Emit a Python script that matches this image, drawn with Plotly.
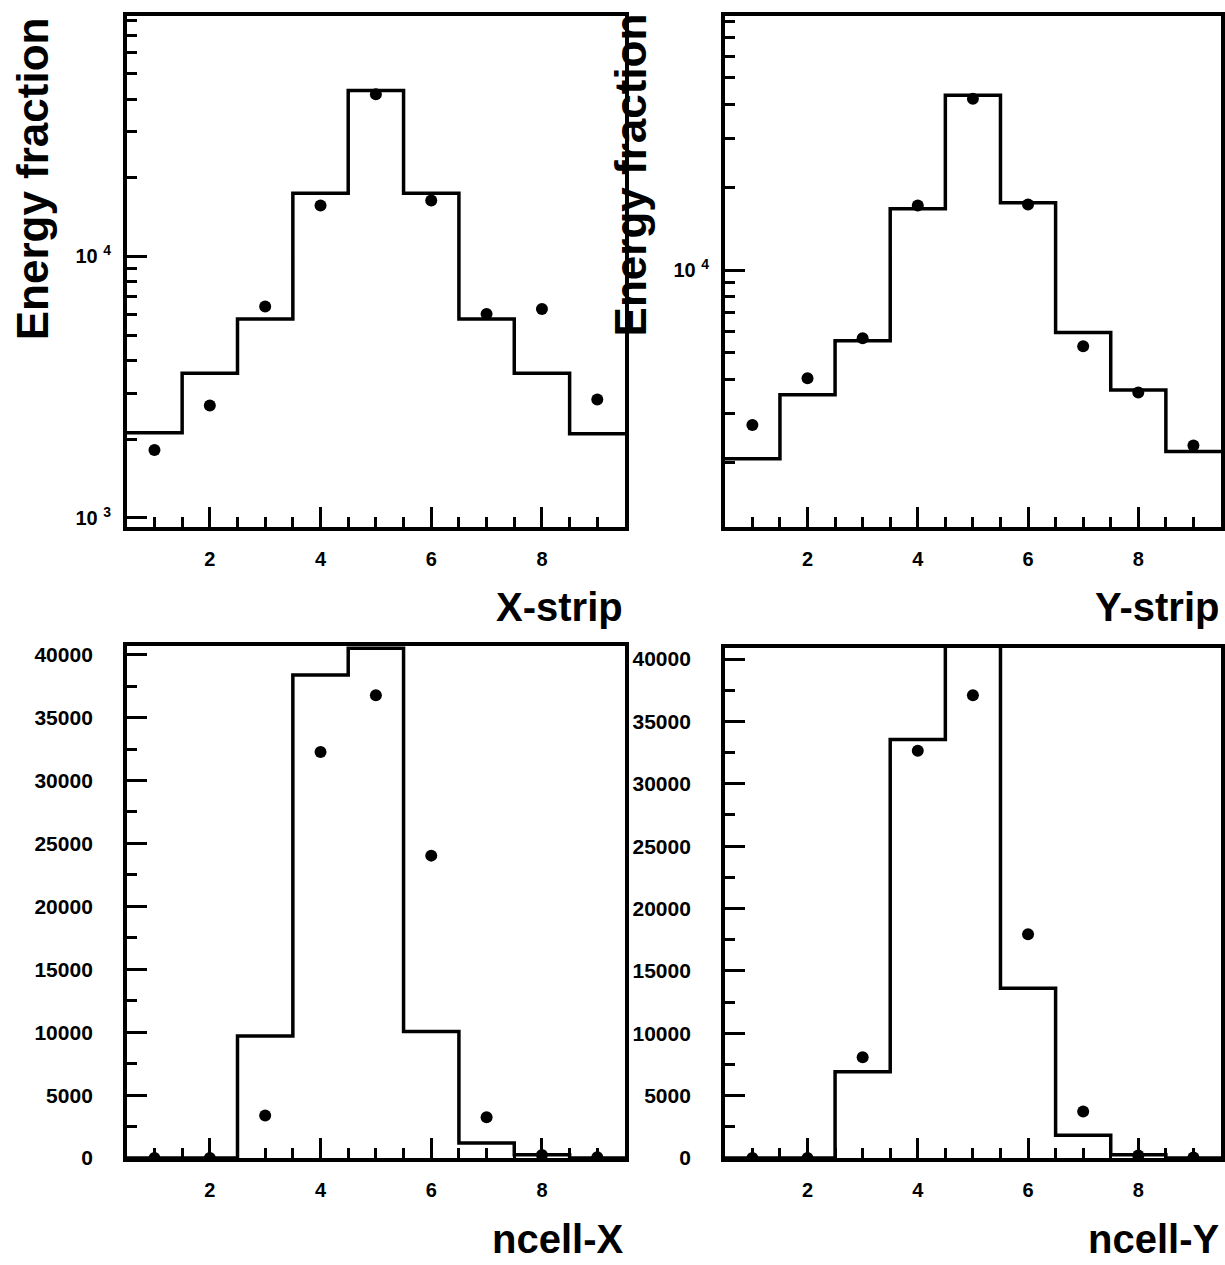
import plotly.graph_objects as go

# ---------------- data ----------------
bins = [1, 2, 3, 4, 5, 6, 7, 8, 9]

# top-left: X-strip energy fraction (log)
xstrip_hist = [2120, 3575, 5770, 17440, 43150, 17440, 5770, 3575, 2100]
xstrip_pts = [1820, 2690, 6430, 15660, 41700, 16370, 6030, 6300, 2840]

# top-right: Y-strip energy fraction (log)
ystrip_hist = [2060, 3520, 5530, 16720, 43250, 17570, 5930, 3660, 2190]
ystrip_pts = [2730, 4040, 5650, 17180, 41980, 17330, 5290, 3590, 2300]

# bottom-left: ncell-X (linear)
ncellx_hist = [0, 0, 9700, 38380, 40500, 10050, 1190, 270, 0]
ncellx_pts = [0, 0, 3380, 32270, 36780, 24030, 3240, 250, 60]

# bottom-right: ncell-Y (linear)
ncelly_hist = [0, 0, 6920, 33550, 43800, 13610, 1820, 270, 0]
ncelly_pts = [0, 0, 8090, 32650, 37090, 17940, 3730, 200, 50]

x_major = [2, 4, 6, 8]
log_major = [1000, 10000]
log_major_text = ["10 <sup>3</sup>", "10 <sup>4</sup>"]
lin_major = [0, 5000, 10000, 15000, 20000, 25000, 30000, 35000, 40000]

# ---------------- layout helpers ----------------
W, H = 1225, 1265
FONT = "Liberation Sans, Arial, Helvetica, sans-serif"
LW = 3.5


def px_x(p):
    return p / W


def px_y(p):
    return 1 - p / H


edges = [b - 0.5 for b in bins] + [bins[-1] + 0.5]
x_minor = [e / 2 for e in range(1, 20) if (e / 2) not in x_major]
log_minor = [m * 10 ** k for k in (2, 3, 4) for m in range(2, 10)]
lin_minor = [2500 + 5000 * i for i in range(9)]

fig = go.Figure()

panels = [
    ("x", "y", xstrip_hist, xstrip_pts),
    ("x2", "y2", ystrip_hist, ystrip_pts),
    ("x3", "y3", ncellx_hist, ncellx_pts),
    ("x4", "y4", ncelly_hist, ncelly_pts),
]

for xa, ya, hist, pts in panels:
    fig.add_trace(go.Scatter(
        x=edges, y=hist + [hist[-1]], mode="lines", line_shape="hv",
        line=dict(color="black", width=LW), xaxis=xa, yaxis=ya,
        showlegend=False, hoverinfo="skip"))
    fig.add_trace(go.Scatter(
        x=bins, y=pts, mode="markers",
        marker=dict(color="black", size=12, symbol="circle"),
        xaxis=xa, yaxis=ya, showlegend=False, cliponaxis=True))

tick_font = dict(family=FONT, size=21, color="black", weight="bold")


def xaxis_cfg(dom, anchor):
    return dict(
        domain=dom, anchor=anchor, range=[0.5, 9.5],
        showline=True, linecolor="black", linewidth=LW, mirror=True,
        showgrid=False, zeroline=False,
        tickmode="array", tickvals=x_major, ticks="inside",
        ticklen=20, tickwidth=3, tickcolor="black",
        tickfont=dict(family=FONT, size=20, color="black", weight="bold"),
        ticklabelstandoff=11,
        minor=dict(tickmode="array", tickvals=x_minor, ticks="inside",
                   ticklen=10, tickwidth=3, tickcolor="black"),
    )


def ylog_cfg(dom, anchor, rng):
    return dict(
        domain=dom, anchor=anchor, type="log", range=rng,
        showline=True, linecolor="black", linewidth=LW, mirror=True,
        showgrid=False, zeroline=False,
        tickmode="array", tickvals=log_major, ticktext=log_major_text,
        ticks="inside", ticklen=20, tickwidth=3, tickcolor="black",
        tickfont=dict(family=FONT, size=20, color="black", weight="bold"),
        ticklabelstandoff=8,
        minor=dict(tickmode="array", tickvals=log_minor, ticks="inside",
                   ticklen=10, tickwidth=3, tickcolor="black"),
    )


def ylin_cfg(dom, anchor, rng):
    return dict(
        domain=dom, anchor=anchor, range=rng,
        showline=True, linecolor="black", linewidth=LW, mirror=True,
        showgrid=False, zeroline=False,
        tickmode="array", tickvals=lin_major,
        ticktext=[str(v) for v in lin_major],
        ticks="inside", ticklen=20, tickwidth=3, tickcolor="black",
        tickfont=tick_font, ticklabelstandoff=26,
        minor=dict(tickmode="array", tickvals=lin_minor, ticks="inside",
                   ticklen=10, tickwidth=3, tickcolor="black"),
    )


xl = [px_x(127), px_x(626)]
xr = [px_x(726), px_x(1223)]
yt = [px_y(530), px_y(13)]
ybl = [px_y(1168), px_y(650)]
ybr = [px_y(1168), px_y(652)]

fig.update_layout(
    width=W, height=H,
    margin=dict(l=0, r=0, t=0, b=0),
    paper_bgcolor="white", plot_bgcolor="white",
    font=dict(family=FONT, color="black"),
    xaxis=xaxis_cfg(xl, "y"),
    yaxis=ylog_cfg(yt, "x", [2.965, 4.92]),
    xaxis2=xaxis_cfg(xr, "y2"),
    yaxis2=ylog_cfg(yt, "x2", [3.065, 4.925]),
    xaxis3=xaxis_cfg(xl, "y3"),
    yaxis3=ylin_cfg(ybl, "x3", [0, 40700]),
    xaxis4=xaxis_cfg(xr, "y4"),
    yaxis4=ylin_cfg(ybr, "x4", [0, 40900]),
)

title_font = dict(family=FONT, size=40, color="black", weight="bold")
ef_font = dict(family=FONT, size=44, color="black", weight="bold")
annots = [
    ("X-strip", 626, 611, 0, "right", "middle", title_font),
    ("Y-strip", 1223, 611, 0, "right", "middle", title_font),
    ("ncell-X", 626, 1250, 0, "right", "middle", title_font),
    ("ncell-Y", 1223, 1250, 0, "right", "middle", title_font),
    ("Energy fraction", 32, 12, -90, "center", "top", ef_font),
    ("Energy fraction", 631, 8, -90, "center", "top", ef_font),
]
for text, ax, ay, ang, xanc, yanc, fnt in annots:
    fig.add_annotation(
        text=text, x=px_x(ax), y=px_y(ay), xref="paper", yref="paper",
        xanchor=xanc, yanchor=yanc, textangle=ang, showarrow=False,
        font=fnt)

fig.write_html("out.html")
